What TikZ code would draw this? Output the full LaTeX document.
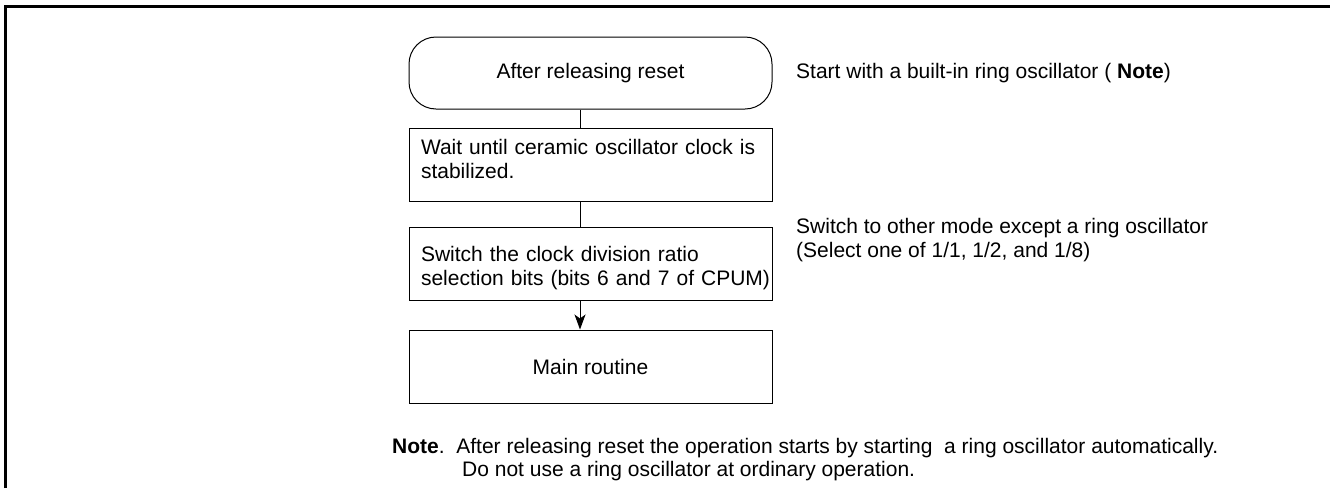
\documentclass[tikz,border=0pt]{standalone}
\usepackage{fontspec}
\setmainfont{Liberation Sans}
\usetikzlibrary{arrows.meta}
\begin{document}
\begin{tikzpicture}[x=1pt,y=-1pt,
  every node/.style={font=\fontsize{21pt}{24pt}\selectfont, inner sep=0pt},
  flowbox/.style={draw=black, line width=1pt, minimum width=363pt, minimum height=73pt, inner xsep=12pt, inner ysep=0pt},
  termbox/.style={flowbox, rounded corners=27pt, minimum height=72pt},
  textbox/.style={flowbox, text width=339pt, align=left},
  link/.style={line width=1pt},
  arrowlink/.style={link, -{Stealth[length=15pt,width=11pt,inset=4pt]}},
  frame/.style={line width=3pt},
  note/.style={anchor=base west, align=left}
]
\useasboundingbox (0,0) rectangle (1330,488);
\draw[frame] (5.5,488) -- (5.5,6.5) -- (1330,6.5);

\node[termbox] (start) at (590.5,73) {After releasing reset};
\node[textbox, text height=16pt, text depth=37pt] (wait) at (590.5,164.5)
  {\mbox{Wait until ceramic oscillator clock is}\\\mbox{stabilized.}};
\node[textbox, text height=16pt, text depth=20pt] (switch) at (590.5,263.5)
  {\mbox{Switch the clock division ratio}\\\mbox{selection bits (bits 6 and 7 of CPUM)}};
\node[flowbox] (main) at (590.5,366.5) {Main routine};

\coordinate (spine) at (580,0);
\draw[link] (start.south -| spine) -- (wait.north -| spine);
\draw[link] (wait.south -| spine) -- (switch.north -| spine);
\draw[arrowlink] (switch.south -| spine) -- (main.north -| spine);

\node[note] (startnote) at (796,78) {Start with a built-in ring oscillator ( \textbf{Note})};
\node[note] (switchnote) at (796,257.5) {Switch to other mode except a ring oscillator\\(Select one of 1/1, 1/2, and 1/8)};

\node[note] (note1) at (392,453) {\textbf{Note}.\ \ After releasing reset the operation starts by starting\ \ a ring oscillator automatically.};
\node[note] (note2) at (462,476) {Do not use a ring oscillator at ordinary operation.};
\end{tikzpicture}
\end{document}
